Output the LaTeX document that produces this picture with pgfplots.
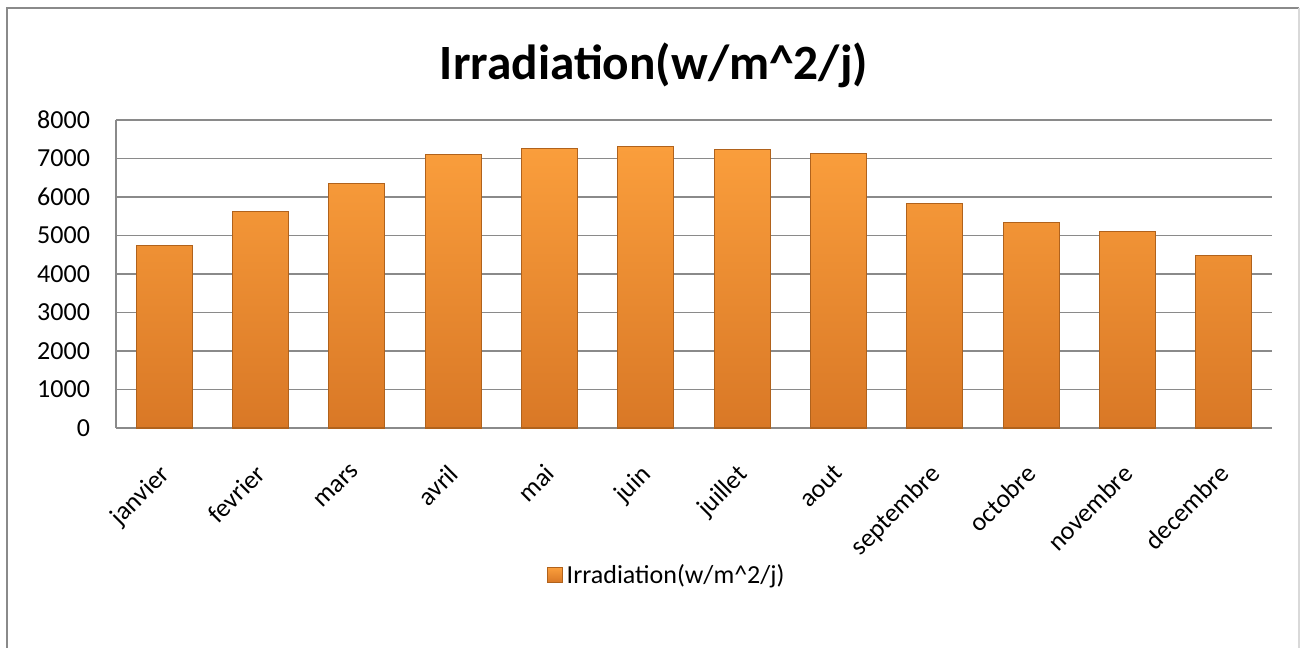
\documentclass[border=0pt]{standalone}
\usepackage{fontspec}
\setmainfont{Carlito}
\usepackage{pgfplots}
\pgfplotsset{compat=1.18}
\definecolor{barTop}{HTML}{FA9E3C}
\definecolor{barBot}{HTML}{D97826}
\definecolor{barEdge}{HTML}{B0621C}
\definecolor{gridc}{HTML}{8A8A8A}
\begin{document}
\begin{tikzpicture}[x=0.75pt,y=0.75pt]
\useasboundingbox (0,0) rectangle (1300,648);
\draw[gridc, line width=2.2pt] (7,-5) -- (7,640) -- (1299,640);
\draw[gray!30, line width=1pt] (1299,640) -- (1299,-5);
\node[font=\bfseries\fontsize{37}{44}\selectfont] at (654,583) {Irradiation(w/m\^{}2/j)};
\begin{axis}[
  at={(87pt,165pt)}, anchor=south west,
  scale only axis, width=867pt, height=231pt,
  xmin=-0.5, xmax=11.5, ymin=0, ymax=8000,
  ytick={0,1000,...,8000},
  xtick={0,...,11},
  xticklabels={janvier,fevrier,mars,avril,mai,juin,juillet,aout,septembre,octobre,novembre,decembre},
  /pgf/number format/1000 sep={},
  /pgf/number format/assume math mode=true,
  axis lines*=left,
  axis line style={gridc, line width=1.6pt},
  ymajorgrids, grid style={gridc, line width=1.4pt},
  major tick length=0pt,
  tick label style={font=\fontsize{19.5}{22}\selectfont},
  yticklabel style={xshift=-16pt},
  xticklabel style={xshift=-4.5pt, yshift=-26pt, rotate=45, anchor=north east, inner sep=0pt},
  legend style={at={(0.4775,-0.477)}, anchor=center, draw=none, fill=none, font=\fontsize{19.5}{22}\selectfont,
    nodes={inner xsep=3pt}},
  legend image code/.code={\fill[barTop, draw=barEdge, line width=0.5pt] (0pt,-5.5pt) rectangle (11pt,5.5pt);},
  clip=false,
]
\addplot[ybar, bar width=42pt, draw=barEdge, line width=0.8pt, top color=barTop, bottom color=barBot]
coordinates {(0,4740) (1,5620) (2,6350) (3,7100) (4,7260) (5,7310) (6,7230) (7,7130) (8,5830) (9,5340) (10,5100) (11,4480)};
\addlegendentry{Irradiation(w/m\^{}2/j)}
\end{axis}
\end{tikzpicture}
\end{document}
